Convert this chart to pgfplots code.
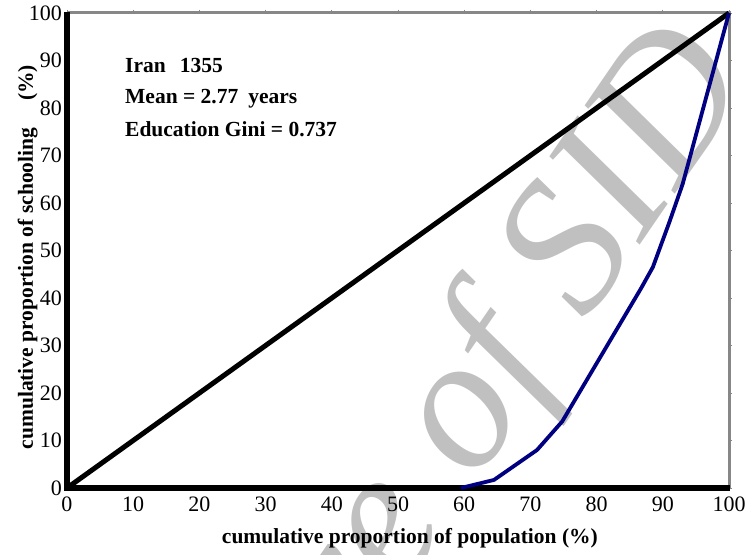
\documentclass[border=0pt]{standalone}
\usepackage{fontspec}
\setmainfont{Liberation Serif}
\usepackage{pgfplots}
\pgfplotsset{compat=1.18}
\definecolor{curveblue}{RGB}{0,0,128}
\definecolor{wm}{RGB}{192,192,192}
\definecolor{framegray}{RGB}{135,135,135}
\begin{document}
\begin{tikzpicture}
\path[use as bounding box] (-67pt,-66pt) rectangle (682pt,488pt);
\node[rotate=55.5, anchor=base east, text=wm, font=\itshape\fontsize{190}{190}\selectfont, inner sep=0pt] at (687pt,409pt) {Archive of SID};
\begin{axis}[
  scale only axis, width=662pt, height=475pt,
  xmin=0, xmax=100, ymin=0, ymax=100,
  xtick={0,10,...,100}, ytick={0,10,...,100},
  /pgf/number format/assume math mode=true,
  ticklabel style={font=\fontsize{22}{24}\selectfont, inner sep=0pt},
  xticklabel style={anchor=north, yshift=-6pt},
  yticklabel style={anchor=east, xshift=-2pt},
  tick align=outside, major tick length=3pt,
  tick style={framegray, line width=0.8pt},
  axis line style={draw=none},
  clip=false,
  xlabel={cumulative proportion of population (\%)},
  ylabel={cumulative proportion of schooling\hspace{27pt}(\%)},
  label style={font=\bfseries\fontsize{21.5}{24}\selectfont, inner sep=0pt},
  xlabel style={at={(axis description cs:0.518,-0.1158)}, anchor=base},
  ylabel style={at={(axis description cs:-0.0514,0.486)}, anchor=base},
]
\draw[framegray, line width=3pt] (rel axis cs:0,1) -- (rel axis cs:1,1) -- (rel axis cs:1,0);
\draw[black, line width=6.5pt] (rel axis cs:0,1.003) -- (rel axis cs:0,0) -- (rel axis cs:1.002,0);
\addplot[black, line width=5pt] coordinates {(0,0) (100,100)};
\addplot[curveblue, line width=3.8pt, line join=round] coordinates {
 (59.5,0) (64.5,1.7) (71,8) (74.8,14) (86.7,42) (88.5,46.5) (91,56) (93,64) (100,100)};
\node[anchor=base west, font=\bfseries\fontsize{21.5}{24}\selectfont, inner sep=0pt] at (axis cs:8.76,87.4) {Iran\hspace{14pt}1355};
\node[anchor=base west, font=\bfseries\fontsize{21.5}{24}\selectfont, inner sep=0pt] at (axis cs:8.76,81.05) {Mean = 2.77\hspace{10pt}years};
\node[anchor=base west, font=\bfseries\fontsize{21.5}{24}\selectfont, inner sep=0pt] at (axis cs:8.76,73.9) {Education Gini = 0.737};
\end{axis}
\end{tikzpicture}
\end{document}
